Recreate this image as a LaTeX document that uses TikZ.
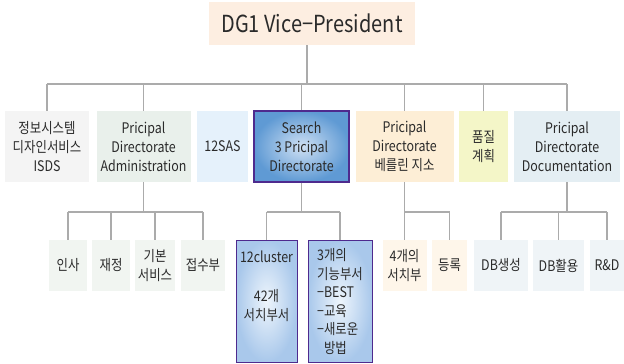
\documentclass[tikz,border=0pt]{standalone}
\usepackage{fontspec}
\setmainfont{Noto Sans CJK KR}[FakeStretch=0.85]
\definecolor{txtc}{HTML}{2A2A2A}
\definecolor{lineg}{HTML}{ABABAB}
\definecolor{cvp}{HTML}{FDEEE1}
\definecolor{cA}{HTML}{F4F4F4}
\definecolor{cB}{HTML}{E9F0EB}
\definecolor{cC}{HTML}{E5F1FB}
\definecolor{cE}{HTML}{FDEED6}
\definecolor{cF}{HTML}{F4F6C8}
\definecolor{cG}{HTML}{E4EEF3}
\definecolor{cBs}{HTML}{F1F5F1}
\definecolor{cEs}{HTML}{FEF6EA}
\definecolor{cGs}{HTML}{EFF4F7}
\definecolor{purp}{HTML}{4E2A8E}
\definecolor{sin}{HTML}{CFE0F3}
\definecolor{sout}{HTML}{5F9AD4}
\definecolor{lin}{HTML}{EEF5FC}
\definecolor{lout}{HTML}{A9C8EB}
\begin{document}
\begin{tikzpicture}[x=1pt,y=-1pt,
  box/.style={draw=none, inner sep=0pt, align=center, text=txtc, font=\fontsize{14.6}{19}\selectfont},
  lvtwo/.style={box, minimum height=71pt},
  lvthree/.style={box, minimum height=51pt},
  tall/.style={box, minimum height=122pt, draw=purp, line width=1pt, shade, inner color=lin, outer color=lout},
  conn/.style={draw=lineg, line width=1.2pt},
]
\useasboundingbox (0,0) rectangle (624,364);

% top
\node[box, fill=cvp, minimum width=206pt, minimum height=43pt, font=\fontsize{23.5}{28}\selectfont] (vp) at (312,23.5) {DG1 Vice−President};

% level 2
\node[lvtwo, fill=cA, minimum width=84pt] (isds) at (47,146.5) {정보시스템\\디자인서비스\\ISDS};
\node[lvtwo, fill=cB, minimum width=94pt] (adm) at (143.5,146.5) {Pricipal\\Directorate\\Administration};
\node[lvtwo, fill=cC, minimum width=51pt] (sas) at (222.5,146.5) {12SAS};
\node[lvtwo, draw=purp, line width=1.2pt, shade, inner color=sin, outer color=sout, minimum width=95pt] (srch) at (301.5,146.5) {Search\\3 Pricipal\\Directorate};
\node[lvtwo, fill=cE, minimum width=98pt] (berl) at (404.5,146.5) {Pricipal\\Directorate\\베를린 지소};
\node[lvtwo, fill=cF, minimum width=49pt] (qual) at (483.5,146.5) {품질\\계획};
\node[lvtwo, fill=cG, minimum width=106pt] (doc) at (567,146.5) {Pricipal\\Directorate\\Documentation};

% level 3
\node[lvthree, fill=cBs, minimum width=38pt] (insa) at (68,265.5) {인사};
\node[lvthree, fill=cBs, minimum width=38pt] (jae) at (111,265.5) {재정};
\node[lvthree, fill=cBs, minimum width=40pt] (gib) at (155,265.5) {기본\\서비스};
\node[lvthree, fill=cBs, minimum width=44pt] (jeop) at (203,265.5) {접수부};

\node[tall, minimum width=61pt] (clu) at (266.5,301) {};
\node[box] (clut) at (266.5,286.5) {12cluster\\[20pt]42개\\서치부서};
\node[tall, minimum width=64pt, align=left, font=\fontsize{14.6}{18.6}\selectfont] (gin) at (340,301.5) {3개의\\기능부서\\−BEST\\−교육\\−새로운\\\hphantom{−}방법};

\node[lvthree, fill=cEs, minimum width=44pt] (seo) at (404.5,265.5) {4개의\\서치부};
\node[lvthree, fill=cEs, minimum width=35pt] (deung) at (449.5,265.5) {등록};

\node[lvthree, fill=cGs, minimum width=54pt] (dbs) at (501,265.5) {DB생성};
\node[lvthree, fill=cGs, minimum width=51pt] (dbh) at (558.5,265.5) {DB활용};
\node[lvthree, fill=cGs, minimum width=34pt] (rnd) at (607,265.5) {R\&D};

% connectors level 1 -> 2
\coordinate (busA) at (0,84);
\draw[conn] ([xshift=-5pt]vp.south) -- ([xshift=-5pt]vp.south |- busA);
\draw[conn] (isds.north |- busA) -- (doc.north |- busA);
\foreach \n in {isds,adm,srch,berl,qual,doc}
  \draw[conn] (\n.north |- busA) -- (\n.north);

% connectors level 2 -> 3
\coordinate (busB) at (0,212);
\draw[conn] (adm.south) -- (adm.south |- busB);
\draw[conn] (insa.north |- busB) -- (jeop.north |- busB);
\foreach \n in {insa,jae,gib,jeop}
  \draw[conn] (\n.north |- busB) -- (\n.north);

\draw[conn] (srch.south) -- (srch.south |- busB);
\draw[conn] (clu.north |- busB) -- (gin.north |- busB);
\foreach \n in {clu,gin}
  \draw[conn] (\n.north |- busB) -- (\n.north);

\draw[conn] (berl.south) -- (seo.north);
\draw[conn] (seo.north |- busB) -- (deung.north |- busB) -- (deung.north);

\draw[conn] (doc.south) -- (doc.south |- busB);
\draw[conn] (dbs.north |- busB) -- (rnd.north |- busB);
\foreach \n in {dbs,dbh,rnd}
  \draw[conn] (\n.north |- busB) -- (\n.north);
\end{tikzpicture}
\end{document}
